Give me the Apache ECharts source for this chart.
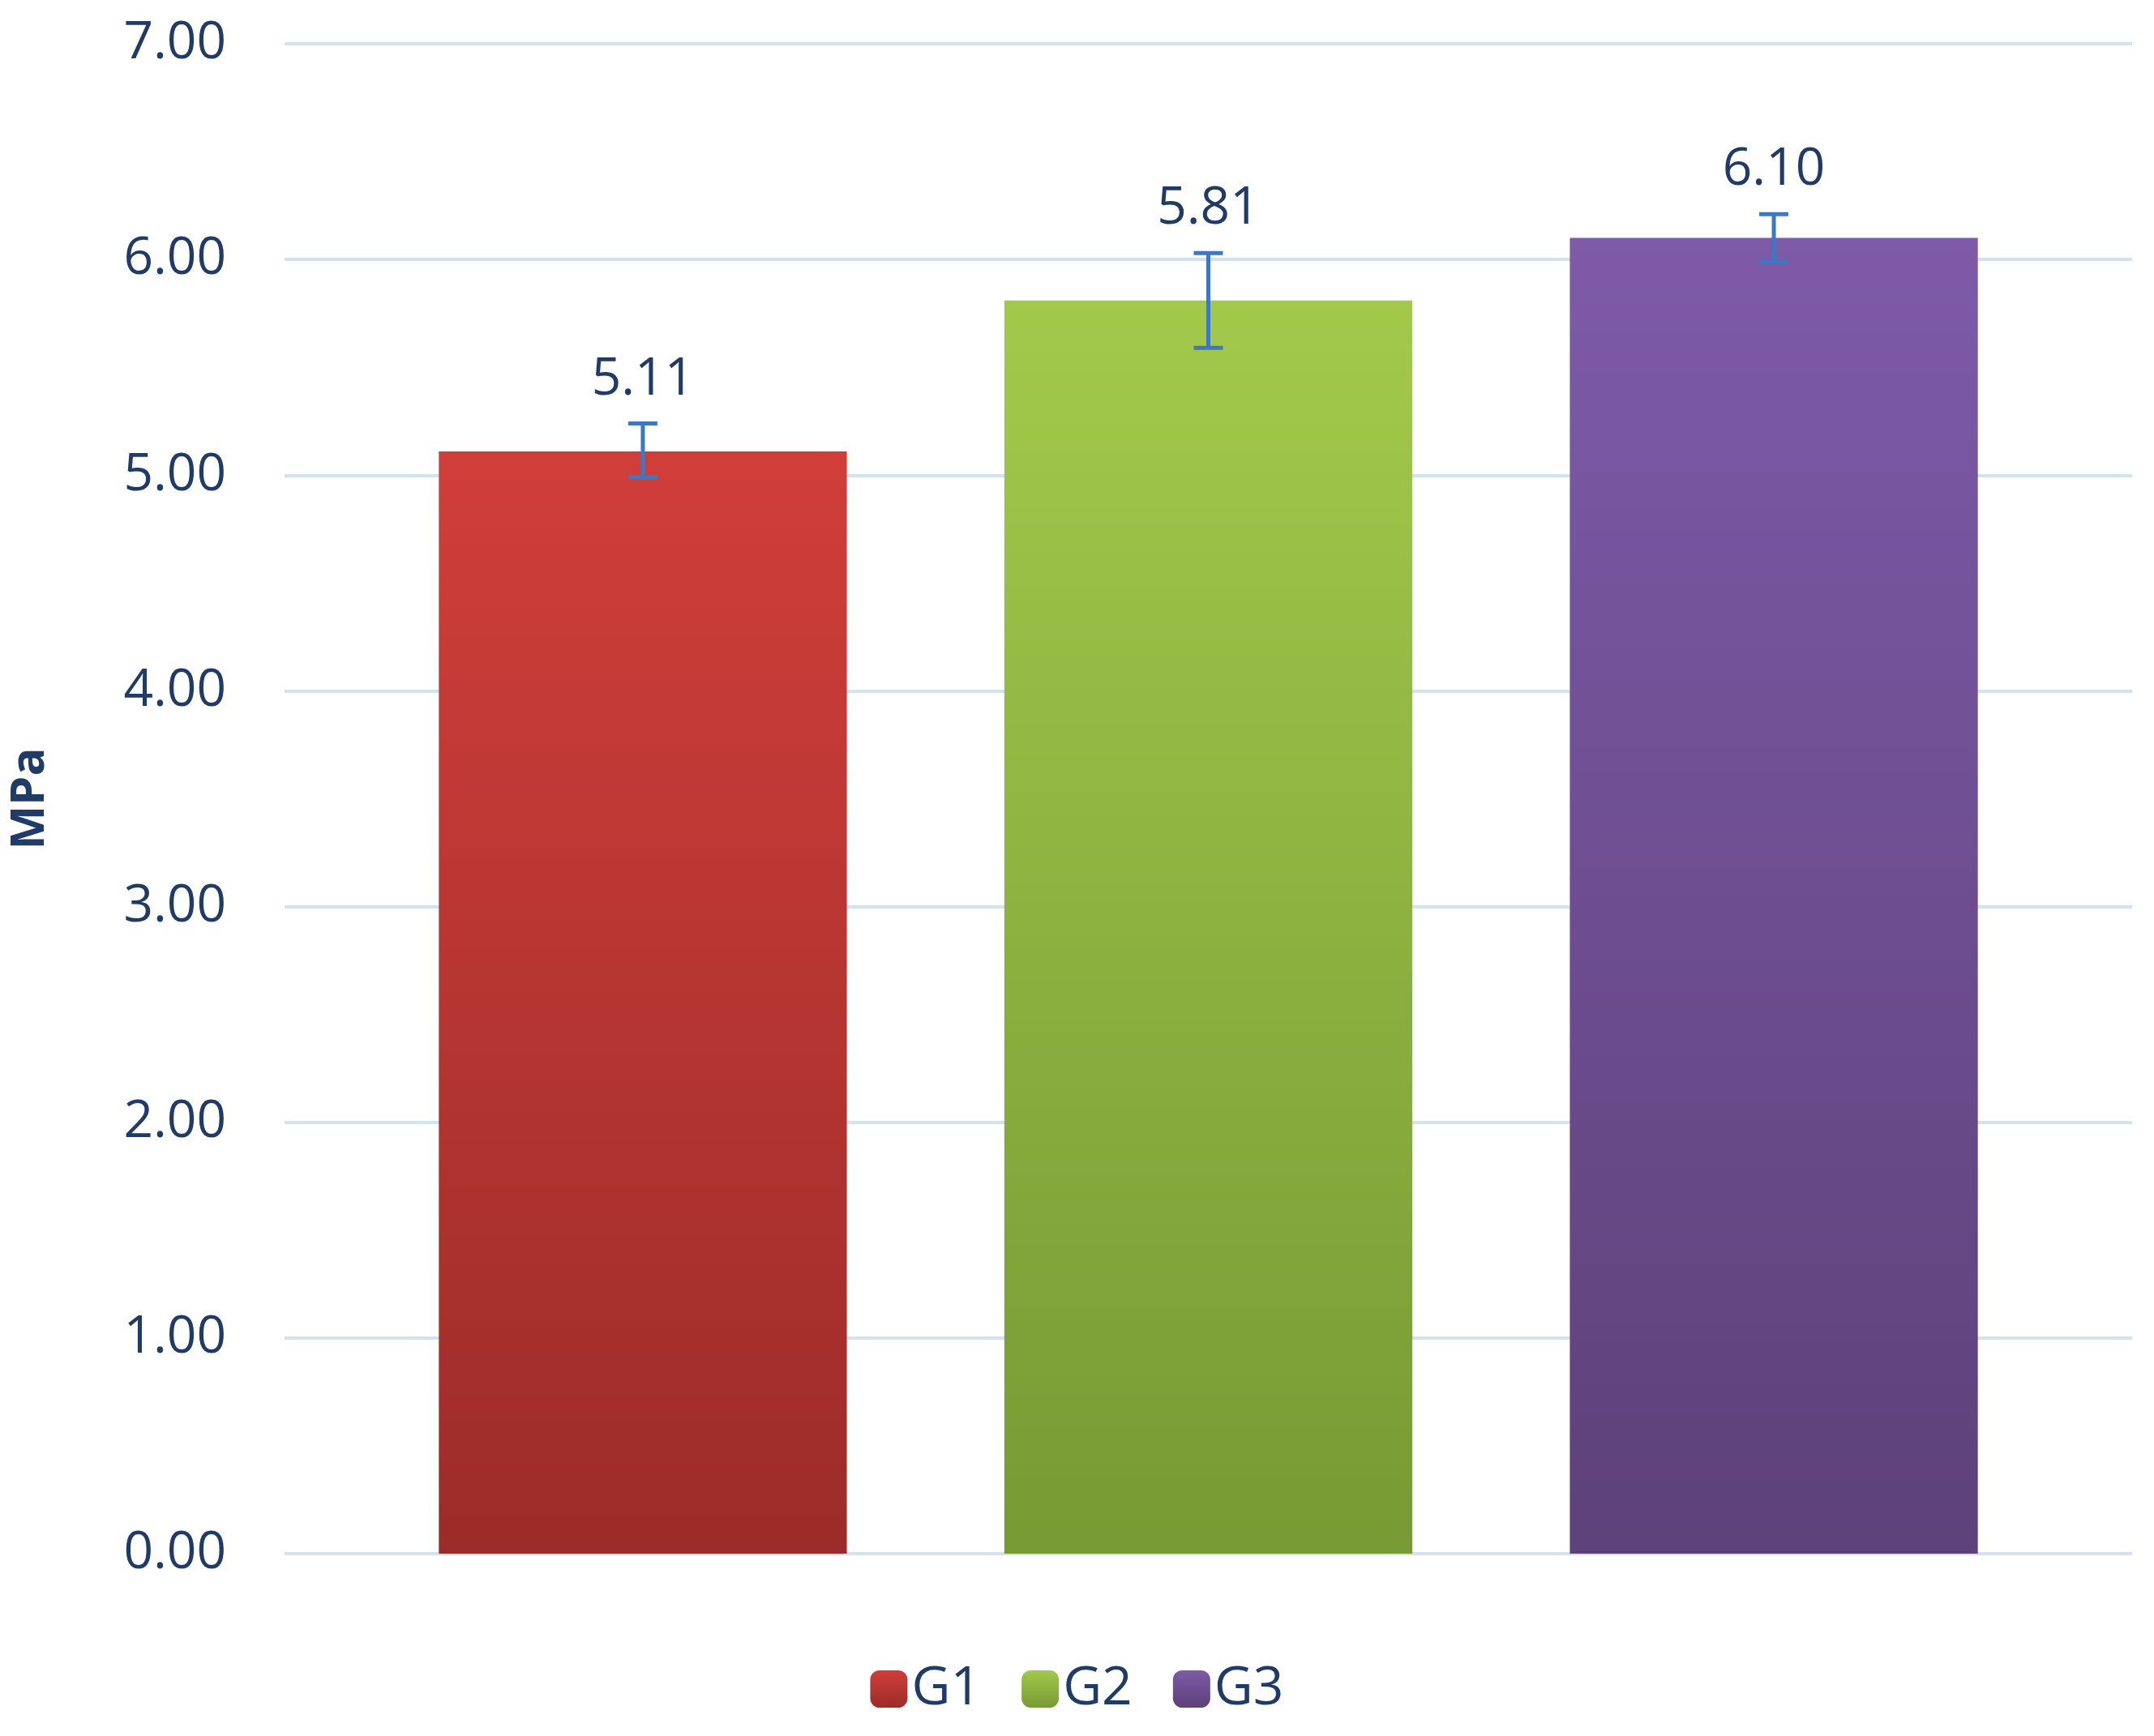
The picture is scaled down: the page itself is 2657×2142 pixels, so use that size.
<!DOCTYPE html>
<html>
<head>
<meta charset="utf-8">
<script src="https://cdn.jsdelivr.net/npm/echarts@6/dist/echarts.min.js"></script>
<style>html,body{margin:0;padding:0;background:#fff}#c{width:2657px;height:2142px}</style>
</head>
<body>
<div id="c"></div>
<script>
var groups = ['G1', 'G2', 'G3'];
var means = [5.11, 5.81, 6.10];
var errLow = [4.99, 5.59, 5.99];
var errHigh = [5.24, 6.03, 6.21];
var yTicks = { min: 0, max: 7, interval: 1 };

var topColors = ['#d03e3a', '#a3c94b', '#7e5aa8'];
var bottomColors = ['#9c2c29', '#779a34', '#5d4179'];
var CAT_GAP = 0.167, BAR_GAP = 0.386;
var textColor = '#1f3b66';

var chart = echarts.init(document.getElementById('c'));
var series = [];
groups.forEach(function (g, i) {
    series.push({
        name: g,
        type: 'bar',
        data: [means[i]],
        barGap: (BAR_GAP * 100) + '%',
        barCategoryGap: (CAT_GAP * 100) + '%',
        itemStyle: {
            color: new echarts.graphic.LinearGradient(0, 0, 0, 1, [
                { offset: 0, color: topColors[i] },
                { offset: 1, color: bottomColors[i] }
            ])
        }
    });
});
groups.forEach(function (g, i) {
    series.push({
        type: 'custom',
        name: g + ' err',
        z: 10,
        data: [[0, errLow[i], errHigh[i], means[i]]],
        renderItem: function (params, api) {
            var bw = api.size([1, 0])[0];
            var w = bw * (1 - CAT_GAP) / (3 + 2 * BAR_GAP);
            var off = (i - 1) * w * (1 + BAR_GAP);
            var lo = api.coord([0, api.value(1)]);
            var hi = api.coord([0, api.value(2)]);
            var x = lo[0] + off, cap = 18;
            var st = { stroke: '#3f78c2', lineWidth: 5 };
            return {
                type: 'group',
                children: [
                    { type: 'line', shape: { x1: x, y1: lo[1], x2: x, y2: hi[1] }, style: st },
                    { type: 'line', shape: { x1: x - cap, y1: lo[1], x2: x + cap, y2: lo[1] }, style: st },
                    { type: 'line', shape: { x1: x - cap, y1: hi[1], x2: x + cap, y2: hi[1] }, style: st },
                    { type: 'text', x: x, y: hi[1] - 22, style: {
                        text: api.value(3).toFixed(2), fill: textColor,
                        font: '64px "Open Sans", sans-serif', align: 'center', verticalAlign: 'bottom' } }
                ]
            };
        }
    });
});

chart.setOption({
    animation: false,
    grid: { left: 342, right: 27, top: 54, bottom: 225 },
    legend: {
        data: groups,
        bottom: 20,
        itemWidth: 46,
        itemHeight: 46,
        itemGap: 50,
        textStyle: { color: textColor, fontSize: 66, fontFamily: 'Open Sans' }
    },
    xAxis: {
        type: 'category',
        data: [''],
        axisLine: { show: false },
        axisTick: { show: false },
        axisLabel: { show: false }
    },
    yAxis: {
        type: 'value',
        min: yTicks.min,
        max: yTicks.max,
        interval: yTicks.interval,
        name: 'MPa',
        nameLocation: 'middle',
        nameGap: 285,
        nameTextStyle: { color: textColor, fontSize: 58, fontWeight: 'bold', fontFamily: 'Open Sans' },
        axisLabel: {
            color: textColor, fontSize: 64, fontFamily: 'Open Sans', margin: 72,
            formatter: function (v) { return v.toFixed(2); }
        },
        splitLine: { lineStyle: { color: '#d3e2f0', width: 4 } }
    },
    series: series
});
</script>
</body>
</html>
